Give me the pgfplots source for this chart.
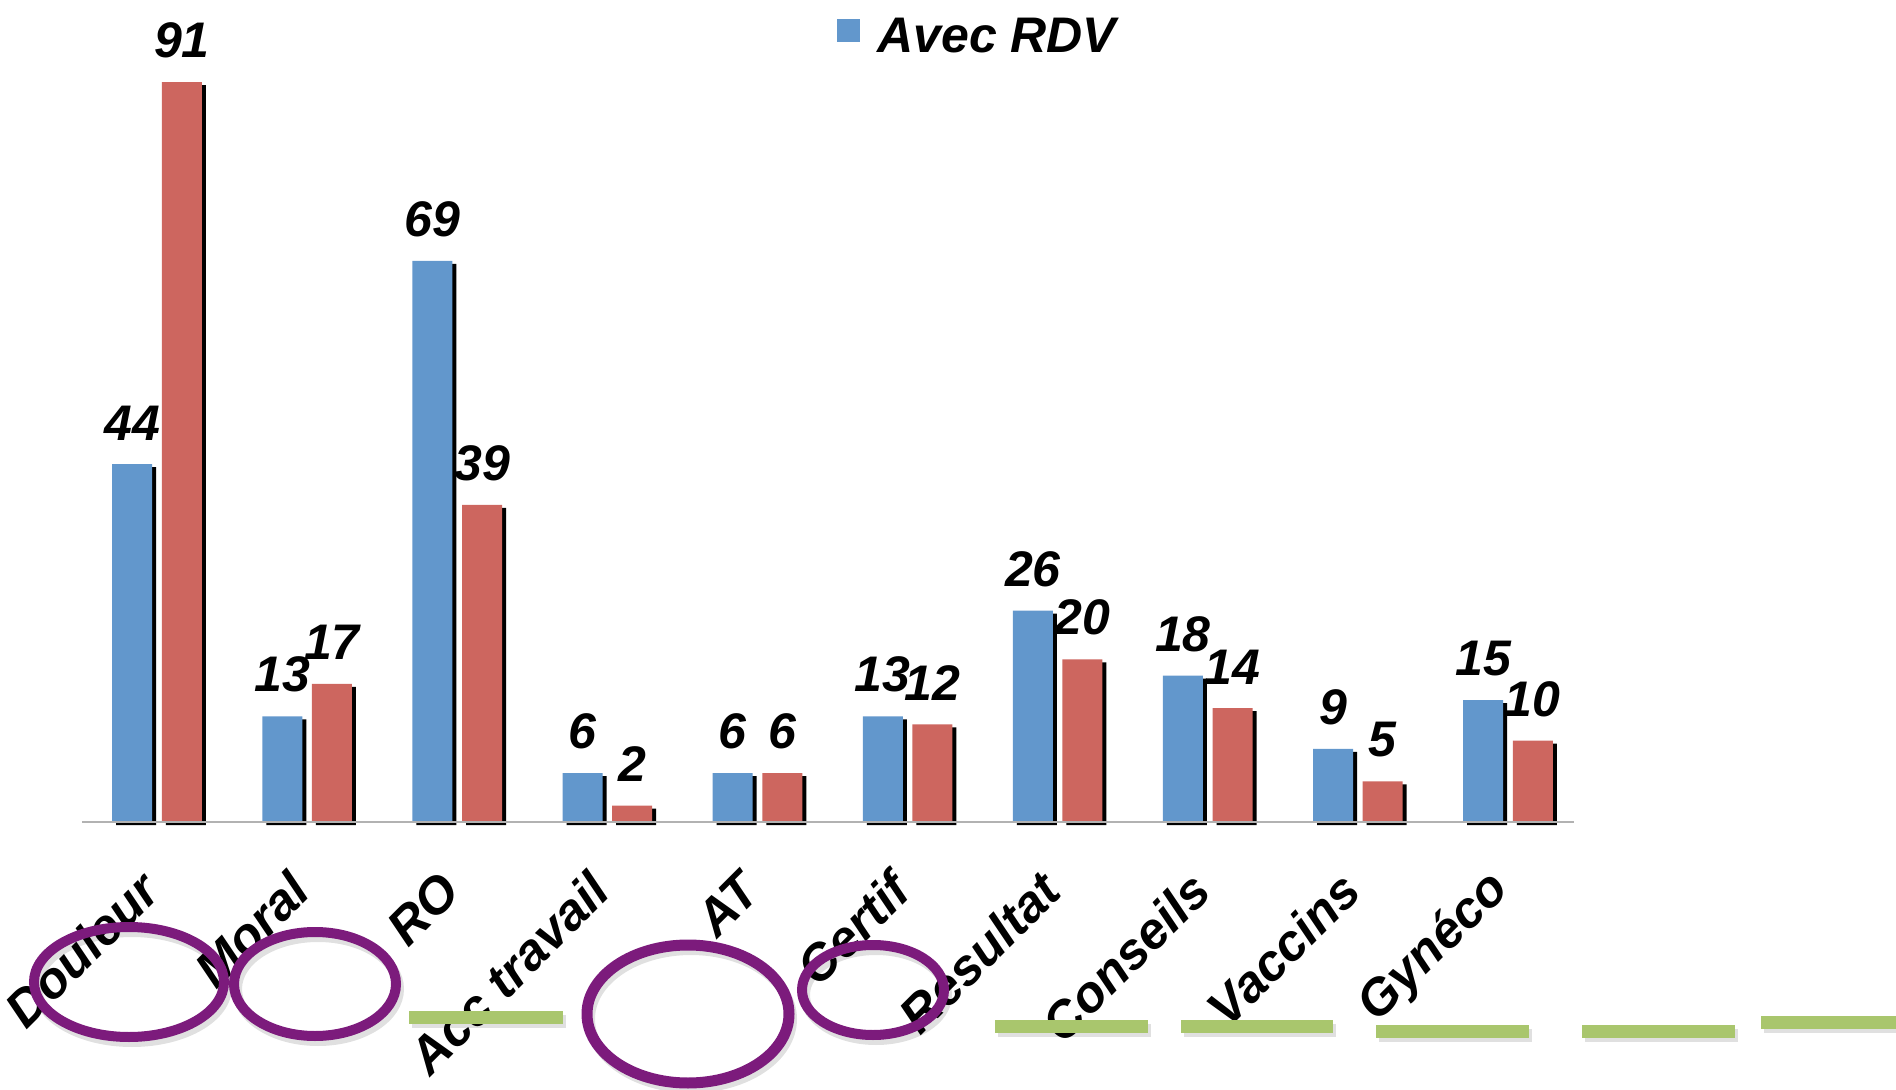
\documentclass[border=0pt]{standalone}
\usepackage{pgfplots}
\pgfplotsset{compat=1.18}
\usepackage{pgfplotstable}
\usepackage{fontspec}
\setmainfont{Liberation Sans}
\definecolor{cblue}{HTML}{6297CC}
\definecolor{cred}{HTML}{CD665F}
\definecolor{cpurple}{HTML}{7C1B7C}
\definecolor{cgreen}{HTML}{A9C66D}
\pgfplotstableread{
x blue red
0 44 91
1 13 17
2 69 39
3 6 2
4 6 6
5 13 12
6 26 20
7 18 14
8 9 5
9 15 10
}\data
\begin{document}
\begin{tikzpicture}
\path[use as bounding box] (0,0) rectangle (948pt,544.5pt);
\begin{axis}[
  at={(41pt,133.5pt)}, anchor=south west,
  scale only axis, width=746pt, height=370pt,
  xmin=-0.5, xmax=9.44, ymin=0, ymax=91,
  clip=false,
  axis line style={draw=none},
  tick style={draw=none},
  ytick=\empty,
  xtick={0,...,9},
  xticklabels={Douleur,Moral,RO,Acc travail,AT,Certif,Resultat,Conseils,Vaccins,Gynéco},
  xticklabel style={font=\bfseries\itshape\fontsize{25.5}{30}\selectfont, inner sep=0pt, xshift=-3.5pt, yshift=-25.5pt, rotate=45, anchor=east},
  ybar, bar width=20pt,
  /pgf/number format/assume math mode=true,
  every node near coord/.append style={font=\bfseries\itshape\fontsize{25}{30}\selectfont, anchor=south, yshift=8.5pt, text=black},
]
\addplot[fill=black, draw=none, bar shift=-10.4pt, yshift=-1.5pt, forget plot] table[x=x,y=blue]{\data};
\addplot[fill=black, draw=none, bar shift=14.4pt, yshift=-1.5pt, forget plot] table[x=x,y=red]{\data};
\addplot[fill=cblue, draw=none, bar shift=-12.4pt, nodes near coords] table[x=x,y=blue]{\data};
\addplot[fill=cred, draw=none, bar shift=12.4pt, nodes near coords] table[x=x,y=red]{\data};
\draw[black!30, line width=1pt] (axis cs:-0.5,0) -- (axis cs:9.44,0);
\end{axis}
\begin{scope}[shift={(0pt,544.5pt)}, x=0.5pt, y=-0.5pt]
  % legend
  \fill[cblue] (837,19) rectangle (860,42);
  \node[anchor=base west, inner sep=0pt, font=\bfseries\itshape\fontsize{25}{30}\selectfont] at (877,52.7) {Avec RDV};
  % shadows
  \begin{scope}[black, opacity=0.12]
    \draw[line width=5pt] (132,987) ellipse [x radius=95, y radius=55];
    \draw[line width=5pt] (318,989) ellipse [x radius=81, y radius=52];
    \draw[line width=5pt] (691,1019) ellipse [x radius=101, y radius=69];
    \draw[line width=5pt] (876,995) ellipse [x radius=71, y radius=45];
    \fill (412,1015) rectangle (566,1028);
    \fill (998,1024) rectangle (1151,1037);
    \fill (1184,1024) rectangle (1336,1037);
    \fill (1379,1029) rectangle (1532,1042);
    \fill (1585,1029) rectangle (1738,1042);
    \fill (1764,1020) rectangle (1896,1033);
  \end{scope}
  % purple ellipses
  \draw[cpurple, line width=5pt] (129,982) ellipse [x radius=95, y radius=55];
  \draw[cpurple, line width=5pt] (315,984) ellipse [x radius=81, y radius=52];
  \draw[cpurple, line width=5.5pt] (688,1014) ellipse [x radius=101, y radius=69];
  \draw[cpurple, line width=5pt] (873,990) ellipse [x radius=71, y radius=45];
  % green dashes
  \fill[cgreen] (409,1011) rectangle (563,1024);
  \fill[cgreen] (995,1020) rectangle (1148,1033);
  \fill[cgreen] (1181,1020) rectangle (1333,1033);
  \fill[cgreen] (1376,1025) rectangle (1529,1038);
  \fill[cgreen] (1582,1025) rectangle (1735,1038);
  \fill[cgreen] (1761,1016) rectangle (1896,1029);
\end{scope}
\end{tikzpicture}
\end{document}
